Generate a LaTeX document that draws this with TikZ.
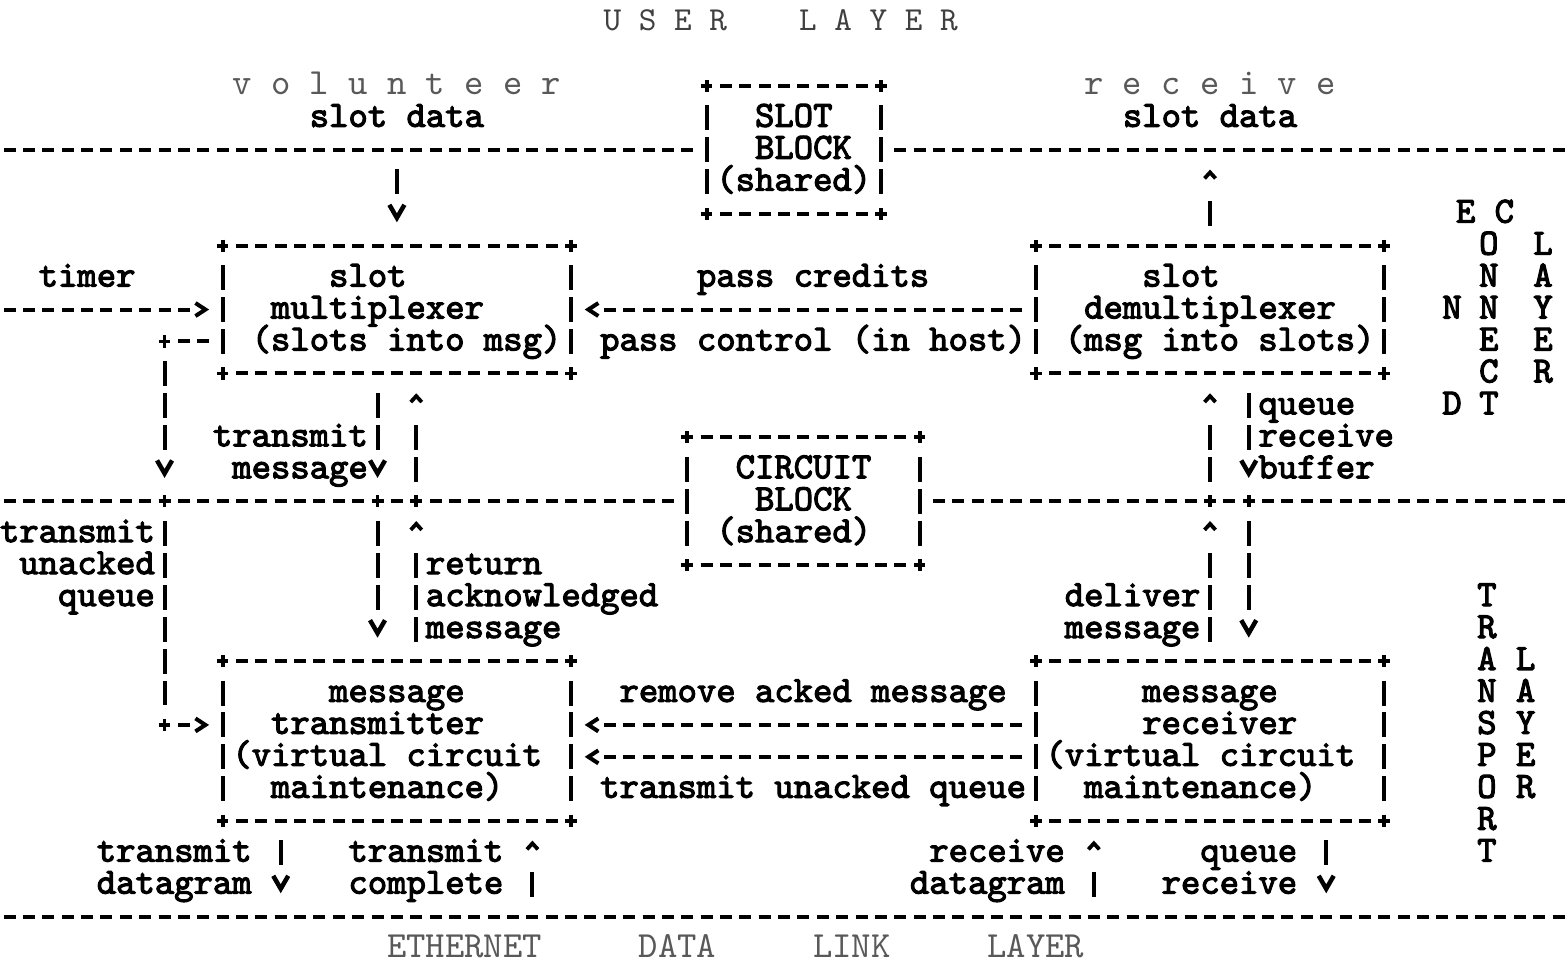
\documentclass[tikz,border=0pt]{standalone}
\usepackage{fontspec}
\usetikzlibrary{arrows.meta}
\newfontfamily\typedbf[FakeBold=3]{lmmono10-regular.otf}
\newfontfamily\typedrm{lmmono10-regular.otf}
\newcommand\tfb{\typedbf\fontsize{10.49pt}{10.49pt}\selectfont}
\newcommand\tfr{\typedrm\fontsize{10.49pt}{10.49pt}\selectfont}
\newcommand\tfh{\typedrm\fontsize{9.55pt}{9.55pt}\selectfont}
\newcommand\typedbox[1]{%
  \draw[hl,shorten <=1.336mm,shorten >=1.336mm] (#1.north west) -- (#1.north east);
  \draw[hl,shorten <=1.336mm,shorten >=1.336mm] (#1.south west) -- (#1.south east);
  \draw[vl,shorten <=1.949mm,shorten >=1.949mm] (#1.north west) -- (#1.south west);
  \draw[vl,shorten <=1.949mm,shorten >=1.949mm] (#1.north east) -- (#1.south east);
  \foreach \a in {north west,north east,south west,south east} \pic at (#1.\a) {plus};
}
\newcommand\typ[4]{\node[tn] (#1) at ({#2-0.5},{#3+0.28}) {#4};}
\newcommand\typl[4]{\node[tnl] (#1) at ({#2-0.5},{#3+0.28}) {#4};}
\tikzset{
  hl/.style={line width=0.4mm, dash pattern=on 1.2mm off 0.736mm},
  vl/.style={line width=0.4mm, dash pattern=on 2.5mm off 0.695mm},
  hb1/.style={line width=0.4mm, dash pattern=on 1.2mm off 60mm},
  hb10/.style={line width=0.4mm, dash pattern=on 1.2mm off 0.736mm on 1.2mm off 0.736mm on 1.2mm off 0.736mm on 1.2mm off 0.736mm on 1.2mm off 0.736mm on 1.2mm off 0.736mm on 1.2mm off 0.736mm on 1.2mm off 0.736mm on 1.2mm off 0.736mm on 1.2mm off 60mm},
  hb22/.style={line width=0.4mm, dash pattern=on 1.2mm off 0.736mm on 1.2mm off 0.736mm on 1.2mm off 0.736mm on 1.2mm off 0.736mm on 1.2mm off 0.736mm on 1.2mm off 0.736mm on 1.2mm off 0.736mm on 1.2mm off 0.736mm on 1.2mm off 0.736mm on 1.2mm off 0.736mm on 1.2mm off 0.736mm on 1.2mm off 0.736mm on 1.2mm off 0.736mm on 1.2mm off 0.736mm on 1.2mm off 0.736mm on 1.2mm off 0.736mm on 1.2mm off 0.736mm on 1.2mm off 0.736mm on 1.2mm off 0.736mm on 1.2mm off 0.736mm on 1.2mm off 0.736mm on 1.2mm off 60mm},
  vb1/.style={line width=0.4mm, dash pattern=on 2.5mm off 40mm},
  vb2/.style={line width=0.4mm, dash pattern=on 2.5mm off 0.695mm on 2.5mm off 40mm},
  vb3/.style={line width=0.4mm, dash pattern=on 2.5mm off 0.695mm on 2.5mm off 0.695mm on 2.5mm off 40mm},
  tipv/.style={-{Straight Barb[length=1.3mm,width=1.5mm,line width=0.45mm]}},
  tipu/.style={-{Straight Barb[length=0.6mm,width=1.1mm,line width=0.38mm]}},
  tiph/.style={-{Straight Barb[length=1.0mm,width=1.3mm,line width=0.4mm]}},
  box/.style={inner sep=0pt, outer sep=0pt, draw=none},
  tn/.style={anchor=base west, inner sep=0pt, outer sep=0pt, font=\tfb, text=black},
  tnl/.style={anchor=base west, inner sep=0pt, outer sep=0pt, font=\tfr, text=black!65},
  vn/.style={anchor=base, inner sep=0pt, outer sep=0pt, font=\tfb, text=black},
  plus/.pic={\draw[line width=0.38mm] (-0.3,0) -- (0.3,0) (0,-0.19) -- (0,0.19);},
}
\begin{document}
\begin{tikzpicture}[x=1.936mm, y=-3.195mm]
\useasboundingbox[fill=white] (-0.5,-0.6886) rectangle (80.49,29.452);

% ---------- boxes ----------
\node[box, minimum width=17.424mm, minimum height=12.78mm] (slotblock) at (40.5,4) {};
\node[box, minimum width=34.848mm, minimum height=12.78mm] (mux) at (20,9) {};
\node[box, minimum width=34.848mm, minimum height=12.78mm] (demux) at (62,9) {};
\node[box, minimum width=23.232mm, minimum height=12.78mm] (circuit) at (41,15) {};
\node[box, minimum width=34.848mm, minimum height=15.975mm] (tx) at (20,22.5) {};
\node[box, minimum width=34.848mm, minimum height=15.975mm] (rx) at (62,22.5) {};
\typedbox{slotblock}
\typedbox{mux}
\typedbox{demux}
\typedbox{circuit}
\typedbox{tx}
\typedbox{rx}

% ---------- layer lines ----------
\coordinate (L4w) at (-0.31,4);  \coordinate (L4e) at (80.31,4);
\coordinate (L15w) at (-0.31,15); \coordinate (L15e) at (80.31,15);
\coordinate (L28w) at (-0.31,28); \coordinate (L28e) at (80.31,28);
\draw[hl, shorten >=1.336mm] (L4w) -- (slotblock.west);
\draw[hl, shorten <=1.336mm] (slotblock.east) -- (L4e);
\draw[hl, shorten >=1.336mm] (L15w) -- (circuit.west);
\draw[hl, shorten <=1.336mm] (circuit.east) -- (L15e);
\draw[hl] (L28w) -- (L28e);
\coordinate (x8) at (8,15);  \coordinate (x19) at (19,15); \coordinate (x21) at (21,15);
\coordinate (x62) at (62,15); \coordinate (x64) at (64,15);
\foreach \p in {x8,x19,x21,x62,x64} \pic at (\p) {plus};

% ---------- connectors ----------
\coordinate (volIn) at (20,4);
\coordinate (rcvOut) at (62,4);
\coordinate (timerIn) at (-0.31,9);
\draw[vb1, tipv, shorten <=1.949mm, shorten >=2.332mm] (volIn) -- (mux.north);
\draw[vb1, tipu, shorten <=1.949mm, shorten >=1.981mm] (demux.north) -- (rcvOut);
\draw[hb10, tiph, shorten >=1.355mm] (timerIn) -- (mux.west);
\draw[hb22, tiph, shorten <=1.336mm, shorten >=1.355mm] (demux.west) -- (mux.east);

% timer loop: multiplexer -> transmitter
\coordinate (c810) at (8,10); \coordinate (c822) at (8,22);
\draw[hl, shorten <=1.336mm, shorten >=1.336mm] (mux.west |- c810) -- (c810);
\pic at (c810) {plus};
\draw[vb3, tipv, shorten <=1.949mm, shorten >=2.332mm] (c810) -- (x8);
\draw[vl, shorten <=1.949mm, shorten >=1.949mm] (x8) -- (c822);
\pic at (c822) {plus};
\draw[hb1, tiph, shorten <=1.336mm, shorten >=1.355mm] (c822) -- (tx.west |- c822);

% transmit message (col 19)
\draw[vb2, tipv, shorten <=1.949mm, shorten >=2.332mm] (mux.south -| x19) -- (x19);
\draw[vb3, tipv, shorten <=1.949mm, shorten >=2.332mm] (x19) -- (tx.north -| x19);
% return acknowledged message (col 21)
\draw[vb3, tipu, shorten <=1.949mm, shorten >=1.981mm] (tx.north -| x21) -- (x21);
\draw[vb2, tipu, shorten <=1.949mm, shorten >=1.981mm] (x21) -- (mux.south -| x21);
% deliver message (col 62)
\draw[vb3, tipu, shorten <=1.949mm, shorten >=1.981mm] (rx.north -| x62) -- (x62);
\draw[vb2, tipu, shorten <=1.949mm, shorten >=1.981mm] (x62) -- (demux.south -| x62);
% queue receive buffer (col 64)
\draw[vb2, tipv, shorten <=1.949mm, shorten >=2.332mm] (demux.south -| x64) -- (x64);
\draw[vb3, tipv, shorten <=1.949mm, shorten >=2.332mm] (x64) -- (rx.north -| x64);
% receiver -> transmitter
\coordinate (r22) at (0,22); \coordinate (r23) at (0,23);
\draw[hb22, tiph, shorten <=1.336mm, shorten >=1.355mm] (rx.west |- r22) -- (tx.east |- r22);
\draw[hb22, tiph, shorten <=1.336mm, shorten >=1.355mm] (rx.west |- r23) -- (tx.east |- r23);
% datagrams
\coordinate (d14) at (14,28); \coordinate (d27) at (27,28);
\coordinate (d56) at (56,28); \coordinate (d68) at (68,28);
\draw[vb1, tipv, shorten <=1.949mm, shorten >=2.332mm] (tx.south -| d14) -- (d14);
\draw[vb1, tipu, shorten <=1.949mm, shorten >=1.981mm] (d27) -- (tx.south -| d27);
\draw[vb1, tipu, shorten <=1.949mm, shorten >=1.981mm] (d56) -- (rx.south -| d56);
\draw[vb1, tipv, shorten <=1.949mm, shorten >=2.332mm] (rx.south -| d68) -- (d68);

% ---------- texts ----------
\node[anchor=base west, inner sep=0pt, font=\tfh, text=black!75] (hdU) at (30.645,0.28) {U S E R};
\node[anchor=base west, inner sep=0pt, font=\tfh, text=black!75] (hdL) at (40.745,0.28) {L A Y E R};
\typl{vol}{12}{2}{v o l u n t e e r}
\typl{rcv}{56}{2}{r e c e i v e}
\typ{volsd}{16}{3}{slot data}
\typ{rcvsd}{58}{3}{slot data}
\typ{sba}{39}{3}{SLOT}
\typ{sbb}{39}{4}{BLOCK}
\typ{sbc}{37}{5}{(shared)}
\typ{timer}{2}{8}{timer}
\typ{muxa}{17}{8}{slot}
\typ{pcred}{36}{8}{pass credits}
\typ{dmxa}{59}{8}{slot}
\typ{muxb}{14}{9}{multiplexer}
\typ{dmxb}{56}{9}{demultiplexer}
\typ{muxc}{13}{10}{(slots into msg)}
\typ{pctl}{31}{10}{pass control (in host)}
\typ{dmxc}{55}{10}{(msg into slots)}
\typ{qrba}{65}{12}{queue}
\typ{tma}{11}{13}{transmit}
\typ{qrbb}{65}{13}{receive}
\typ{tmb}{12}{14}{message}
\typ{cba}{38}{14}{CIRCUIT}
\typ{qrbc}{65}{14}{buffer}
\typ{cbb}{39}{15}{BLOCK}
\typ{tuqa}{0}{16}{transmit}
\typ{cbc}{37}{16}{(shared)}
\typ{tuqb}{1}{17}{unacked}
\typ{rama}{22}{17}{return}
\typ{tuqc}{3}{18}{queue}
\typ{ramb}{22}{18}{acknowledged}
\typ{dma}{55}{18}{deliver}
\typ{ramc}{22}{19}{message}
\typ{dmb}{55}{19}{message}
\typ{txa}{17}{21}{message}
\typ{ram}{32}{21}{remove acked message}
\typ{rxa}{59}{21}{message}
\typ{txb}{14}{22}{transmitter}
\typ{rxb}{59}{22}{receiver}
\typ{txc}{12}{23}{(virtual circuit}
\typ{rxc}{54}{23}{(virtual circuit}
\typ{txd}{14}{24}{maintenance)}
\typ{tuq}{31}{24}{transmit unacked queue}
\typ{rxd}{56}{24}{maintenance)}
\typ{tda}{5}{26}{transmit}
\typ{tca}{18}{26}{transmit}
\typ{rda}{48}{26}{receive}
\typ{qra}{62}{26}{queue}
\typ{tdb}{5}{27}{datagram}
\typ{tcb}{18}{27}{complete}
\typ{rdb}{47}{27}{datagram}
\typ{qrb}{60}{27}{receive}
\typl{eth}{20}{29}{ETHERNET}
\typl{dat}{33}{29}{DATA}
\typl{lnk}{42}{29}{LINK}
\typl{lyr}{51}{29}{LAYER}

% vertical words
\node[vn] (conA6) at (75.2,6.28) {E};
\node[vn] (conA9) at (74.5,9.28) {N};
\node[vn] (conA12) at (74.5,12.28) {D};
\node[vn] (conB6) at (77.2,6.28) {C};
\foreach \l [count=\i from 7] in {O,N,N,E,C,T} \node[vn] (conB\i) at (76.4,{\i+0.28}) {\l};
\foreach \l [count=\i from 7] in {L,A,Y,E,R} \node[vn] (conC\i) at (79.2,{\i+0.28}) {\l};
\foreach \l [count=\i from 18] in {T,R,A,N,S,P,O,R,T} \node[vn] (trA\i) at (76.3,{\i+0.28}) {\l};
\foreach \l [count=\i from 20] in {L,A,Y,E,R} \node[vn] (trB\i) at (78.3,{\i+0.28}) {\l};
\end{tikzpicture}
\end{document}
